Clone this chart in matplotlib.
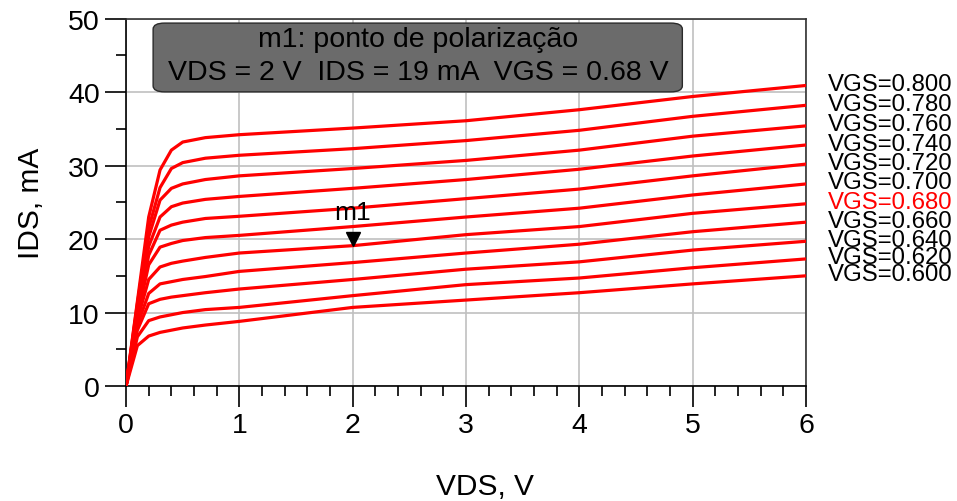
import numpy as np
import matplotlib
matplotlib.use('Agg')
from matplotlib import pyplot as plt
from matplotlib.patches import FancyBboxPatch
from matplotlib.ticker import MultipleLocator
import matplotlib.transforms as mtransforms

plt.rcParams['font.family'] = ['Liberation Sans', 'DejaVu Sans']

# drain voltage sweep points (V)
vds = [0, 0.1, 0.2, 0.3, 0.4, 0.5, 0.7, 1, 2, 3, 4, 5, 6]

# drain current (mA) for each gate voltage
ids_800 = [0, 11.5, 23.0, 29.4, 32.1, 33.2, 33.8, 34.2, 35.1, 36.1, 37.6, 39.4, 40.9]
ids_780 = [0, 11.2, 21.5, 27.0, 29.6, 30.4, 31.0, 31.4, 32.3, 33.4, 34.8, 36.7, 38.2]
ids_760 = [0, 10.8, 20.3, 25.3, 26.9, 27.5, 28.1, 28.6, 29.6, 30.7, 32.1, 34.0, 35.4]
ids_740 = [0, 10.4, 19.0, 23.0, 24.4, 24.9, 25.4, 25.8, 26.9, 28.1, 29.5, 31.3, 32.8]
ids_720 = [0, 10.0, 17.8, 21.2, 21.9, 22.3, 22.8, 23.1, 24.2, 25.5, 26.8, 28.6, 30.2]
ids_700 = [0, 9.5, 16.5, 18.9, 19.4, 19.8, 20.2, 20.5, 21.7, 23.0, 24.2, 26.0, 27.5]
ids_680 = [0, 9.0, 14.5, 16.2, 16.7, 17.0, 17.5, 18.1, 19.1, 20.6, 21.7, 23.5, 24.8]
ids_660 = [0, 8.3, 12.6, 13.9, 14.2, 14.5, 14.9, 15.6, 16.8, 18.1, 19.3, 21.0, 22.3]
ids_640 = [0, 7.6, 11.2, 11.8, 12.1, 12.3, 12.7, 13.2, 14.5, 15.9, 16.9, 18.5, 19.7]
ids_620 = [0, 6.7, 8.9, 9.4, 9.7, 10.0, 10.4, 10.7, 12.3, 13.8, 14.7, 16.1, 17.3]
ids_600 = [0, 5.5, 6.8, 7.3, 7.6, 7.9, 8.3, 8.8, 10.7, 11.7, 12.7, 13.9, 15.0]

vgs_labels = ['0.800', '0.780', '0.760', '0.740', '0.720', '0.700',
              '0.680', '0.660', '0.640', '0.620', '0.600']
curves = [ids_800, ids_780, ids_760, ids_740, ids_720, ids_700,
          ids_680, ids_660, ids_640, ids_620, ids_600]

# bias point m1
m1_vds = 2
m1_vgs = 0.68
m1_ids = np.interp(m1_vds, vds, ids_680)

fig = plt.figure(figsize=(9.57, 5.02), dpi=100)
ax = fig.add_axes([0.1317, 0.229, 0.7106, 0.732])

for ids in curves:
    ax.plot(vds, ids, color='#ff0000', lw=2.3, solid_joinstyle='round', zorder=3)

ax.set_xlim(0, 6)
ax.set_ylim(0, 50)
ax.xaxis.set_major_locator(MultipleLocator(1))
ax.xaxis.set_minor_locator(MultipleLocator(0.2))
ax.yaxis.set_major_locator(MultipleLocator(10))
ax.yaxis.set_minor_locator(MultipleLocator(5))
ax.grid(True, which='major', color='#c0c0c0', lw=1.2)
ax.tick_params(which='major', direction='out', length=15, width=1.2, labelsize=20.5, pad=4)
ax.tick_params(which='minor', direction='out', length=7.5, width=1.2)
for sp in ax.spines.values():
    sp.set_linewidth(1.2)
    sp.set_color('black')
ax.spines['top'].set_color('#333333')
ax.spines['right'].set_color('#333333')

fig.text(0.032, 0.595, 'IDS, mA', rotation=90, ha='center', va='center', fontsize=21.5)
fig.text(0.507, 0.03, 'VDS, V', ha='center', va='center', fontsize=21.5)

# VGS labels at the right end of each curve
trans = mtransforms.blended_transform_factory(ax.transAxes, ax.transData)
for lab, ids in zip(vgs_labels, curves):
    col = 'red' if lab == '0.680' else 'black'
    ax.text(1.032, ids[-1] + 0.2, 'VGS=' + lab, transform=trans, ha='left', va='center',
            fontsize=17.3, color=col, clip_on=False)

# marker triangle with its tip on the bias point
tri_off = mtransforms.offset_copy(ax.transData, fig=fig, x=0, y=5, units='points')
ax.plot([m1_vds], [m1_ids], marker='v', ms=10, color='black', transform=tri_off,
        linestyle='none', zorder=5)
ax.annotate('m1', (m1_vds, m1_ids), xytext=(0, 24), textcoords='offset points',
            ha='center', va='center', fontsize=19, zorder=5)

# marker info box
box = FancyBboxPatch((0.160, 0.815), 0.553, 0.137, boxstyle='round,pad=0,rounding_size=0.012',
                     transform=fig.transFigure, facecolor='#6b6b6b', edgecolor='#2a2a2a',
                     lw=1.0, zorder=6)
fig.add_artist(box)
fig.text(0.437, 0.920, 'm1: ponto de polarização', ha='center', va='center', fontsize=20.5, zorder=7)
fig.text(0.437, 0.854, 'VDS = %d V  IDS = %.0f mA  VGS = %.2f V' % (m1_vds, m1_ids, m1_vgs),
         ha='center', va='center', fontsize=20.5, zorder=7)

fig.savefig('out.png', dpi=100)
